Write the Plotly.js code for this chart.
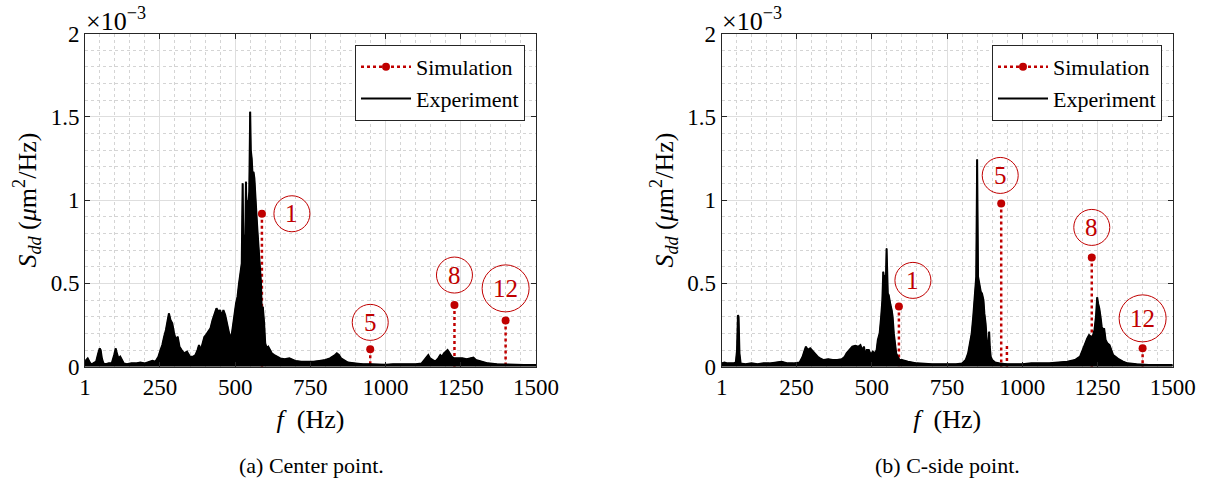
<!DOCTYPE html>
<html>
<head>
<meta charset="utf-8">
<script src="https://cdn.plot.ly/plotly-3.0.1.min.js"></script>
<style>html,body{margin:0;padding:0;background:#fff;}#chart{width:1206px;height:482px;}</style>
</head>
<body>
<div id="chart"></div>
<script>
// ---- data (S_dd values in units of 1e-3 µm^2/Hz) ----
const xTicks = [1, 250, 500, 750, 1000, 1250, 1500];
const modeLabels = ['1', '5', '8', '12'];

// (a) Center point
const simF_a = [589, 949, 1229, 1399];
const simS_a = [0.918, 0.104, 0.370, 0.278];
const expF_a = [1,5,10,15,20,28,38,45,50,53,57,62,70,80,90,98,103,107,112,118,124,130,140,155,170,185,200,215,225,235,245,252,258,264,270,276,280,285,291,297,303,309,315,322,330,340,350,360,368,375,380,386,392,398,403,410,418,425,432,438,445,450,456,461,467,474,480,487,492,497,503,508,513,518,522,525,527,531,534,536,538,541,544,547,550,552,555,558,561,564,567,570,574,577,581,586,589,592,596,600,605,610,616,622,630,640,650,665,680,700,720,740,760,780,800,815,825,832,838,845,852,860,875,900,925,950,975,1000,1025,1050,1075,1100,1120,1130,1137,1142,1148,1155,1165,1175,1182,1188,1194,1200,1206,1210,1215,1220,1228,1240,1255,1270,1285,1292,1300,1320,1340,1370,1400,1430,1460,1500];
const expS_a = [0.01,0.04,0.05,0.03,0.015,0.02,0.03,0.08,0.11,0.10,0.05,0.02,0.015,0.02,0.02,0.07,0.11,0.08,0.05,0.06,0.04,0.02,0.015,0.02,0.02,0.025,0.02,0.03,0.035,0.03,0.06,0.10,0.13,0.18,0.22,0.28,0.32,0.28,0.26,0.20,0.16,0.18,0.12,0.10,0.08,0.09,0.06,0.06,0.07,0.10,0.13,0.10,0.14,0.18,0.19,0.21,0.23,0.28,0.32,0.35,0.33,0.34,0.30,0.34,0.31,0.26,0.20,0.17,0.25,0.30,0.38,0.42,0.50,0.56,0.62,1.10,0.75,0.72,0.80,1.11,0.90,1.00,0.98,1.05,1.53,1.30,1.25,1.15,1.17,1.13,1.00,0.94,0.82,0.74,0.62,0.50,0.28,0.36,0.27,0.14,0.11,0.12,0.10,0.08,0.07,0.06,0.05,0.045,0.05,0.035,0.03,0.03,0.03,0.035,0.04,0.05,0.06,0.07,0.08,0.07,0.05,0.04,0.025,0.02,0.015,0.015,0.012,0.012,0.015,0.015,0.015,0.015,0.02,0.04,0.06,0.07,0.05,0.04,0.03,0.05,0.07,0.06,0.08,0.09,0.10,0.09,0.07,0.06,0.05,0.05,0.05,0.045,0.05,0.055,0.04,0.03,0.02,0.015,0.012,0.01,0.01,0.01];

// (b) C-side point
const simF_b = [590, 930, 1231, 1400];
const simS_b = [0.362, 0.980, 0.656, 0.110];
const simExtraF_b = [949];
const simExtraS_b = [0.124];
const expF_b = [1,10,20,30,40,48,52,55,57,60,64,80,100,120,140,160,180,200,220,240,260,270,275,281,287,295,300,305,312,320,328,340,355,370,385,400,410,416,425,435,445,455,462,468,474,478,483,490,497,503,510,516,520,526,531,535,538,541,544,546,549,551,553,556,559,562,566,569,573,577,581,586,592,600,620,650,700,750,780,800,812,820,827,832,837,840,844,847,849,850,851,853,857,862,866,871,874,878,882,885,888,890,892,895,900,910,925,950,975,1000,1030,1060,1090,1120,1150,1175,1192,1203,1210,1216,1222,1228,1234,1240,1245,1249,1252,1256,1260,1264,1268,1272,1277,1283,1290,1296,1302,1310,1320,1335,1350,1380,1420,1460,1500];
const expS_b = [0.02,0.025,0.02,0.02,0.02,0.025,0.10,0.31,0.30,0.08,0.02,0.015,0.02,0.015,0.02,0.02,0.025,0.03,0.02,0.02,0.025,0.06,0.09,0.12,0.10,0.11,0.10,0.09,0.07,0.06,0.05,0.04,0.045,0.04,0.04,0.045,0.06,0.08,0.10,0.12,0.125,0.12,0.13,0.10,0.12,0.06,0.10,0.10,0.07,0.09,0.08,0.10,0.16,0.20,0.30,0.40,0.57,0.52,0.55,0.45,0.71,0.50,0.44,0.43,0.38,0.37,0.34,0.30,0.20,0.14,0.08,0.06,0.04,0.04,0.03,0.02,0.015,0.015,0.015,0.02,0.04,0.08,0.14,0.20,0.30,0.36,0.45,0.54,1.00,1.244,1.00,0.54,0.50,0.45,0.44,0.40,0.32,0.26,0.16,0.10,0.12,0.21,0.12,0.06,0.04,0.025,0.02,0.015,0.015,0.015,0.02,0.02,0.02,0.025,0.03,0.04,0.06,0.11,0.15,0.17,0.19,0.18,0.18,0.22,0.30,0.416,0.38,0.35,0.30,0.24,0.22,0.23,0.16,0.14,0.13,0.10,0.07,0.06,0.045,0.03,0.02,0.015,0.01,0.01,0.01];

// ---- styles ----
const RED = '#c00000';
const AXC = '#262626';
const TXT = '#000';
const FONT = "'Liberation Serif', 'Times New Roman', serif";
const labelOff_a = [[30, 0], [0, 27], [0, 30], [0, 32]];
const labelOff_b = [[14, 26], [-1, 28], [0, 30], [0, 30]];

function stems(F, S) {
  const x = [], y = [], c = [];
  F.forEach((f, i) => { x.push(f, f, null); y.push(S[i], 0, null); c.push(RED, 'rgba(0,0,0,0)', RED); });
  return {x, y, c};
}

function panelTraces(simF, simS, expF, expS, xa, ya, leg) {
  const st = stems(simF, simS);
  return [
    {x: st.x, y: st.y, xaxis: xa, yaxis: ya, legend: leg, name: 'Simulation', mode: 'lines+markers',
     line: {color: RED, width: 2.5, dash: 'dot'}, marker: {color: st.c, size: 8}, connectgaps: false, hoverinfo: 'skip'},
    {x: expF, y: expS, xaxis: xa, yaxis: ya, mode: 'lines', fill: 'tozeroy', fillcolor: '#000',
     line: {color: '#000', width: 1}, showlegend: false, hoverinfo: 'skip'},
    {x: expF, y: expS, xaxis: xa, yaxis: ya, legend: leg, name: 'Experiment', mode: 'lines',
     line: {color: '#000', width: 2}, hoverinfo: 'skip'}
  ];
}

const traces = [].concat(
  panelTraces(simF_a, simS_a, expF_a, expS_a, 'x', 'y', 'legend'),
  panelTraces(simF_b, simS_b, expF_b, expS_b, 'x2', 'y2', 'legend2')
);
const ex = stems(simExtraF_b, simExtraS_b);
traces.splice(3, 0, {x: ex.x, y: ex.y, xaxis: 'x2', yaxis: 'y2', mode: 'lines', showlegend: false,
  line: {color: RED, width: 2.5, dash: 'dot'}, hoverinfo: 'skip'});

function xAxis(domain, anchor) {
  return {domain, anchor, range: [1, 1500], tickmode: 'array', tickvals: xTicks, ticktext: xTicks.map(String),
    showline: true, linecolor: AXC, linewidth: 1, mirror: 'ticks', ticks: 'inside', ticklen: 5, tickcolor: AXC,
    showgrid: true, gridcolor: '#dedede', gridwidth: 1, zeroline: false,
    minor: {dtick: 50, tick0: 0, showgrid: true, gridcolor: '#d4d4d4', griddash: 'dot', ticks: ''},
    tickfont: {family: FONT, size: 23, color: TXT},
    title: {text: '<i>f</i>  (Hz)', font: {family: FONT, size: 26, color: TXT}, standoff: 10}};
}
function yAxis(domain, anchor) {
  return {domain, anchor, range: [0, 2], dtick: 0.5, tick0: 0,
    showline: true, linecolor: AXC, linewidth: 1, mirror: 'ticks', ticks: 'inside', ticklen: 5, tickcolor: AXC,
    showgrid: true, gridcolor: '#dedede', gridwidth: 1, zeroline: false,
    minor: {dtick: 0.1, showgrid: true, gridcolor: '#d4d4d4', griddash: 'dot', ticks: ''},
    tickfont: {family: FONT, size: 23, color: TXT},
    title: {text: '<i>S</i><sub><i>dd</i></sub> (<i>μ</i>m<sup>2</sup>/Hz)', font: {family: FONT, size: 26, color: TXT}, standoff: 6}};
}

const yDom = [(482 - 366.7) / 482, (482 - 33.5) / 482];
const legendStyle = (xr) => ({x: xr, xanchor: 'right', y: (482 - 45) / 482, yanchor: 'top', xref: 'paper', yref: 'paper',
  bgcolor: '#fff', bordercolor: AXC, borderwidth: 1, font: {family: FONT, size: 22, color: TXT},
  tracegroupgap: 0, itemwidth: 50});

const shapes = [], annotations = [];
function addLabels(F, S, offs, xr, yr) {
  F.forEach((f, i) => {
    const r = modeLabels[i].length > 1 ? 23.5 : 18;
    const [dx, dy] = offs[i];
    shapes.push({type: 'circle', xref: xr, yref: yr, xsizemode: 'pixel', ysizemode: 'pixel',
      xanchor: f, yanchor: S[i], x0: dx - r, x1: dx + r, y0: dy - r, y1: dy + r,
      line: {color: RED, width: 1}, fillcolor: 'rgba(0,0,0,0)'});
    annotations.push({xref: xr, yref: yr, x: f, y: S[i], xshift: dx, yshift: dy, text: modeLabels[i],
      showarrow: false, font: {family: FONT, size: 25, color: RED}});
  });
}
addLabels(simF_a, simS_a, labelOff_a, 'x', 'y');
addLabels(simF_b, simS_b, labelOff_b, 'x2', 'y2');

annotations.push(
  {xref: 'paper', yref: 'paper', x: 84 / 1206, y: 1 - 1 / 482, xanchor: 'left', yanchor: 'top', showarrow: false,
   text: '×10<sup>−3</sup>', font: {family: FONT, size: 26, color: TXT}},
  {xref: 'paper', yref: 'paper', x: 720 / 1206, y: 1 - 1 / 482, xanchor: 'left', yanchor: 'top', showarrow: false,
   text: '×10<sup>−3</sup>', font: {family: FONT, size: 26, color: TXT}},
  {xref: 'paper', yref: 'paper', x: 311 / 1206, y: 1 - 465 / 482, xanchor: 'center', yanchor: 'middle', showarrow: false,
   text: '(a) Center point.', font: {family: FONT, size: 22, color: TXT}},
  {xref: 'paper', yref: 'paper', x: 947 / 1206, y: 1 - 465 / 482, xanchor: 'center', yanchor: 'middle', showarrow: false,
   text: '(b) C-side point.', font: {family: FONT, size: 22, color: TXT}}
);

const layout = {
  width: 1206, height: 482, margin: {l: 0, r: 0, t: 0, b: 0},
  paper_bgcolor: '#fff', plot_bgcolor: '#fff',
  font: {family: FONT, color: TXT},
  xaxis: xAxis([85 / 1206, 536 / 1206], 'y'),
  yaxis: yAxis(yDom, 'x'),
  xaxis2: xAxis([721.7 / 1206, 1172.7 / 1206], 'y2'),
  yaxis2: yAxis(yDom, 'x2'),
  legend: legendStyle(525 / 1206),
  legend2: legendStyle(1162 / 1206),
  shapes, annotations
};

Plotly.newPlot('chart', traces, layout, {staticPlot: true, displayModeBar: false});
</script>
</body>
</html>
